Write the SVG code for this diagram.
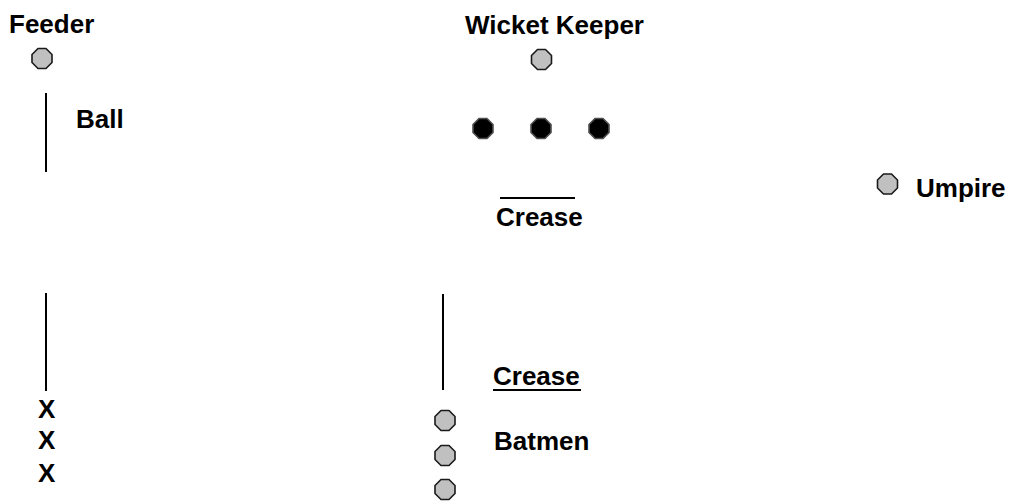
<svg xmlns="http://www.w3.org/2000/svg" width="1010" height="504" viewBox="0 0 1010 504">
<style>
.t{font-family:"Liberation Sans",Arial,sans-serif;font-weight:bold;font-size:26px;fill:#000}
.ln{stroke:#000;stroke-width:2;fill:none}
.p{fill:#c0c0c0;stroke:#1a1a1a;stroke-width:1.6;stroke-linejoin:round}
.s{fill:#000;stroke:#505050;stroke-width:1.6;stroke-linejoin:round}
</style>
<defs>
<path id="oct" d="M-4,-10 H4 L10,-4 V4 L4,10 H-4 L-10,4 V-4 Z"/>
</defs>
<rect width="1010" height="504" fill="#fff"/>
<g id="feeder">
<text class="t" x="9" y="33">Feeder</text>
<use href="#oct" class="p" x="42" y="58.5"/>
</g>
<g id="wicket-keeper">
<text class="t" x="465" y="34">Wicket Keeper</text>
<use href="#oct" class="p" x="541.5" y="59.5"/>
</g>
<g id="stumps">
<use href="#oct" class="s" x="483" y="128.5"/>
<use href="#oct" class="s" x="541" y="128.5"/>
<use href="#oct" class="s" x="599" y="128.5"/>
</g>
<g id="ball">
<text class="t" x="76" y="128">Ball</text>
</g>
<g id="crease-top">
<text class="t" x="496" y="226">Crease</text>
</g>
<g id="umpire">
<use href="#oct" class="p" x="887.5" y="184"/>
<text class="t" x="916" y="197">Umpire</text>
</g>
<g id="fielders-x">
<text class="t" x="38" y="418">X</text>
<text class="t" x="38" y="449">X</text>
<text class="t" x="38" y="482">X</text>
</g>
<g id="crease-bottom">
<text class="t" x="493" y="385">Crease</text>
</g>
<g id="batmen">
<use href="#oct" class="p" x="445" y="420.5"/>
<use href="#oct" class="p" x="445" y="455.5"/>
<use href="#oct" class="p" x="445" y="489.5"/>
<text class="t" x="494" y="450">Batmen</text>
</g>
<g id="connectors">
<line class="ln" x1="46" y1="93" x2="46" y2="172"/>
<line class="ln" x1="500" y1="198" x2="575" y2="198"/>
<line class="ln" x1="46" y1="293" x2="46" y2="391"/>
<line class="ln" x1="443" y1="294" x2="443" y2="390"/>
<line class="ln" x1="493" y1="390" x2="581" y2="390"/>
</g>
</svg>
